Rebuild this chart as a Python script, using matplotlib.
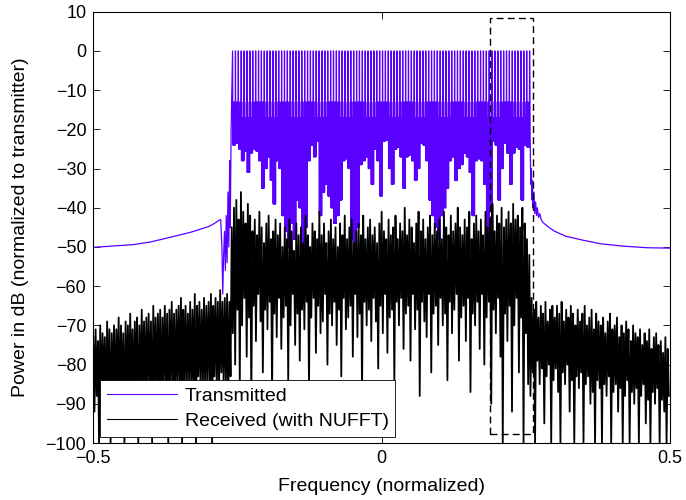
import numpy as np
import matplotlib
matplotlib.use("Agg")
import matplotlib.pyplot as plt
from matplotlib.patches import Rectangle

plt.rcParams['font.family'] = ['Liberation Sans', 'DejaVu Sans']

TX_COLOR = '#5a00ff'
RX_COLOR = '#000000'

# ---- transmitted spectrum -------------------------------------------------
# out-of-band skirt left of the occupied band (frequency, dB)
skirt_left_f = [-0.5, -0.45, -0.43, -0.40, -0.36, -0.33, -0.315, -0.30, -0.29,
                -0.283, -0.279, -0.277, -0.2755, -0.274, -0.2725, -0.271,
                -0.2695, -0.268, -0.2665, -0.265, -0.2635, -0.2625, -0.261]
skirt_left_db = [-50.1, -49.6, -49.4, -48.7, -47.3, -46.2, -45.5, -44.8, -44.0,
                 -43.3, -43.0, -50.0, -62.0, -52.0, -46.0, -56.0,
                 -42.0, -54.0, -36.0, -50.0, -28.0, -45.0, -20.0]

# out-of-band skirt right of the occupied band
skirt_right_f = [0.2575, 0.2585, 0.2595, 0.2605, 0.2615, 0.2625, 0.264, 0.2655,
                 0.267, 0.2685, 0.270, 0.272, 0.274, 0.277, 0.28, 0.29, 0.30,
                 0.32, 0.35, 0.38, 0.42, 0.46, 0.5]
skirt_right_db = [-22.0, -34.0, -30.0, -38.0, -33.0, -40.0, -36.0, -41.5,
                  -38.5, -42.0, -40.0, -42.5, -41.5, -43.2, -43.8, -45.0, -46.0,
                  -47.3, -48.3, -49.2, -49.8, -50.2, -50.3]

# subcarrier comb
tone_start = -0.2585
tone_step = 0.005
tone_count = 104
tone_peak_db = 0.0
# lowest level reached between neighbouring subcarriers
gap_floor_db = [
    -24, -23.5, -25, -28, -25.5, -31, -26, -25, -25.5, -28,
    -35, -30, -27, -33, -39, -28, -30, -42, -46, -50,
    -44, -48, -38, -40, -52, -45, -28, -24, -27, -23,
    -42, -36, -34, -37, -40, -44, -42, -38, -28, -27.5,
    -30, -48, -55, -45, -29, -28, -27, -30, -34, -25,
    -28, -37, -23, -22.8, -30, -34, -25, -24.5, -27, -35,
    -27, -26.5, -28, -33, -30, -23.5, -24, -28, -38, -42,
    -45, -48, -42, -40, -35, -28, -27, -33, -30, -29,
    -26, -27, -31, -42, -28, -27.5, -28, -34, -54, -40,
    -23, -24, -38, -30, -23.5, -26, -34, -26, -24.5, -25,
    -38, -24, -24.5,
]
# sidelobe levels filling each subcarrier gap
sidelobe_db = [-13, -17, -20, -22, -20, -17, -13]

# ---- received spectrum (alternating local maxima / minima) ---------------
rx_high_db = [
    # below the band
    -73, -71, -74, -70, -72, -73, -69, -71, -72, -70,
    -71, -68, -70, -72, -69, -70, -67, -71, -69, -68,
    -70, -66, -69, -68, -67, -69, -65, -68, -67, -66,
    -68, -65, -67, -66, -64, -67, -66, -65, -63, -66,
    -65, -67, -64, -66, -62, -65, -64, -66, -63, -65,
    -64, -62, -65, -63, -64, -61, -64, -63, -62, -64,
    # occupied band
    -45, -40, -38, -43, -36, -41, -44, -39, -42, -46,
    -43, -47, -41, -45, -49, -44, -42, -48, -46, -43,
    -47, -44, -50, -45, -48, -43, -46, -51, -44, -47,
    -45, -49, -42, -47, -50, -44, -46, -48, -41, -47,
    -44, -49, -46, -43, -48, -45, -50, -44, -47, -42,
    -48, -45, -43, -49, -46, -44, -47, -42, -48, -45,
    -43, -47, -45, -49, -44, -41, -46, -48, -43, -47,
    -45, -42, -48, -44, -46, -40, -47, -43, -45, -49,
    -44, -41, -46, -43, -48, -45, -42, -47, -44, -46,
    -43, -48, -41, -45, -47, -42, -46, -44, -40, -45,
    -47, -43, -45, -41, -48, -44, -42, -46, -43, -47,
    -41, -45, -43, -39, -46, -42, -44, -40, -45, -43,
    -41, -44, -39, -43, -42, -45, -40, -44, -48, -52,
    # above the band
    -63, -66, -64, -68, -65, -67, -64, -69, -66, -65,
    -68, -65, -67, -64, -69, -66, -68, -65, -67, -70,
    -66, -69, -67, -65, -70, -68, -66, -71, -67, -69,
    -70, -68, -72, -69, -67, -71, -70, -68, -73, -70,
    -72, -69, -71, -74, -70, -72, -73, -71, -75, -72,
    -74, -71, -76, -73, -72, -75, -74, -77, -73, -76,
]
rx_low_db = [
    # below the band
    -92, -88, -100, -90, -87, -95, -89, -100, -88, -91,
    -86, -93, -89, -100, -87, -90, -88, -92, -86, -100,
    -89, -87, -91, -85, -88, -100, -86, -89, -87, -92,
    -85, -88, -100, -86, -87, -90, -84, -88, -100, -85,
    -87, -84, -89, -86, -100, -83, -87, -85, -88, -84,
    -86, -100, -83, -85, -88, -82, -86, -84, -90, -83,
    # occupied band
    -72, -80, -66, -85, -70, -63, -78, -68, -90, -65,
    -74, -62, -69, -82, -66, -71, -64, -88, -67, -73,
    -63, -76, -68, -65, -84, -70, -62, -75, -67, -79,
    -66, -71, -64, -86, -68, -63, -77, -65, -72, -69,
    -62, -80, -67, -70, -64, -75, -66, -83, -63, -71,
    -68, -65, -78, -62, -73, -67, -88, -64, -70, -66,
    -74, -63, -69, -81, -65, -72, -62, -77, -68, -66,
    -85, -64, -70, -63, -76, -67, -65, -79, -62, -71,
    -66, -88, -64, -69, -73, -62, -82, -67, -65, -75,
    -63, -70, -67, -84, -64, -72, -66, -62, -79, -68,
    -65, -74, -63, -87, -67, -70, -64, -76, -62, -80,
    -68, -64, -90, -66, -72, -63, -78, -100, -67, -74,
    -65, -92, -70, -63, -82, -68, -100, -72, -85, -88,
    # above the band
    -82, -100, -79, -85, -81, -95, -83, -80, -100, -84,
    -81, -87, -100, -82, -85, -80, -92, -84, -100, -83,
    -86, -82, -100, -85, -83, -90, -87, -100, -84, -86,
    -100, -85, -88, -83, -100, -87, -85, -92, -86, -100,
    -88, -84, -100, -87, -90, -86, -100, -88, -85, -95,
    -89, -100, -87, -90, -86, -100, -89, -92, -100, -88,
]
rx_start = -0.5
rx_step = 0.004

# highlighted region
box_f = (0.187, 0.263)
box_db = (-97.7, 8.3)

x_ticks = [-0.5, 0, 0.5]
x_tick_labels = ['\u22120.5', '0', '0.5']
y_ticks = list(range(-100, 11, 10))

# ---- assemble the transmitted trace -------------------------------------
tone_f = tone_start + tone_step * np.arange(tone_count)
tx_f = list(skirt_left_f)
tx_db = list(skirt_left_db)
for k in range(tone_count):
    tx_f.append(tone_f[k])
    tx_db.append(tone_peak_db)
    if k < tone_count - 1:
        floor = gap_floor_db[k]
        levels = [floor]
        for s in sidelobe_db:
            levels += [s, floor]
        offsets = np.linspace(0.1, 0.9, len(levels)) * tone_step
        tx_f.extend(tone_f[k] + offsets)
        tx_db.extend(levels)
tx_f.extend(skirt_right_f)
tx_db.extend(skirt_right_db)

# ---- assemble the received trace ----------------------------------------
n_rx = len(rx_high_db)
rx_f = np.empty(2 * n_rx)
rx_db = np.empty(2 * n_rx)
base = rx_start + rx_step * np.arange(n_rx)
rx_f[0::2] = base
rx_f[1::2] = base + rx_step / 2
rx_db[0::2] = rx_high_db
rx_db[1::2] = rx_low_db

# ---- draw ----------------------------------------------------------------
fig = plt.figure(figsize=(6.86, 5.0), dpi=100)
ax = fig.add_axes([0.136, 0.114, 0.8407, 0.8626])

ax.plot(tx_f, tx_db, color=TX_COLOR, lw=0.9, label='Transmitted')
ax.plot(rx_f, rx_db, color=RX_COLOR, lw=1.3, label='Received (with NUFFT)')

ax.add_patch(Rectangle((box_f[0], box_db[0]), box_f[1] - box_f[0],
                       box_db[1] - box_db[0], fill=False, edgecolor='black',
                       lw=1.0, linestyle=(0, (5, 3)), zorder=5))

ax.set_xlim(-0.5, 0.5)
ax.set_ylim(-100, 10)
ax.set_xticks(x_ticks)
ax.set_xticklabels(x_tick_labels)
ax.set_yticks(y_ticks)
ax.set_yticklabels([str(v).replace('-', '\u2212') for v in y_ticks])
ax.tick_params(direction='in', top=True, right=True, length=5, width=0.6,
               labelsize=13, pad=5)
for sp in ax.spines.values():
    sp.set_linewidth(0.8)

ax.set_xlabel('Frequency (normalized)', fontsize=14, labelpad=8)
ax.set_ylabel('Power in dB (normalized to transmitter)', fontsize=14,
              labelpad=12)

leg = ax.legend(loc='lower left', bbox_to_anchor=(0.0116, 0.014),
                borderaxespad=0, fontsize=14, handlelength=3.6,
                handletextpad=0.4, labelspacing=0.4, fancybox=False,
                framealpha=1, edgecolor='black', borderpad=0.35)
leg.get_frame().set_linewidth(0.6)
for handle in leg.get_lines():
    handle.set_linewidth(0.8)
leg.set_zorder(10)

fig.savefig('out.png', dpi=100)
